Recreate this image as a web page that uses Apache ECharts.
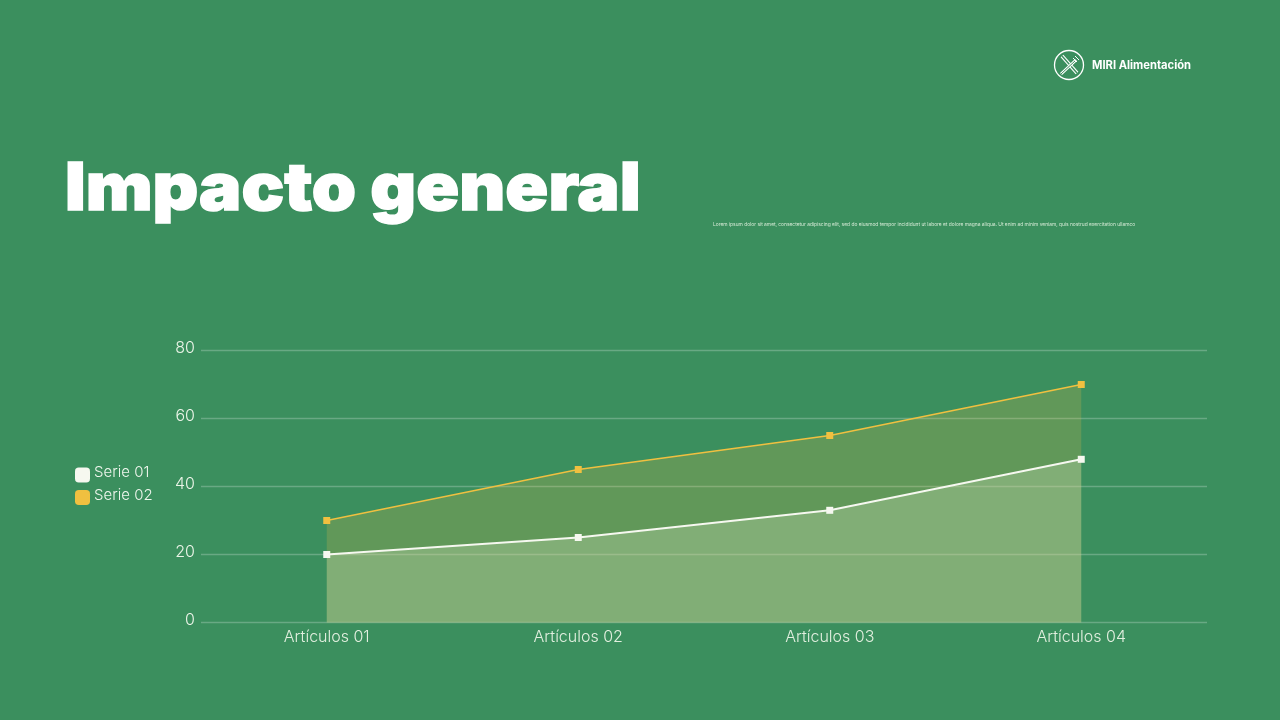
<!DOCTYPE html>
<html><head><meta charset="utf-8">
<style>html,body{margin:0;padding:0;background:#3b8f5e}#c{width:1280px;height:720px}</style>
<script src="https://cdn.jsdelivr.net/npm/echarts@6/dist/echarts.min.js"></script>
</head><body><div id="c"></div>
<script>
const categories = ['Artículos 01','Artículos 02','Artículos 03','Artículos 04'];
const serie01 = [20,25,33,48];
const serie02 = [30,45,55,70];
const yTicks = {min:0,max:80,interval:20};
const titleText = 'Impacto general';
const brandText = 'MIRI Alimentación';
const bodyText = 'Lorem ipsum dolor sit amet, consectetur adipiscing elit, sed do eiusmod tempor incididunt ut labore et dolore magna aliqua. Ut enim ad minim veniam, quis nostrud exercitation ullamco';
const font = 'Inter';
const chart = echarts.init(document.getElementById('c'),null,{renderer:'canvas'});
const mk = (name,data,color,area,z,w)=>({name,type:'line',data,z,symbol:'rect',symbolSize:7,
  lineStyle:{color,width:w},itemStyle:{color},areaStyle:{color:area,opacity:1},showSymbol:true,silent:true});
chart.setOption({
  backgroundColor:'#3b8f5e',animation:false,
  grid:{left:201,right:73,top:350.5,bottom:97.5,containLabel:false},
  legend:{orient:'vertical',left:70,top:460,itemWidth:15,itemHeight:15,itemGap:5,icon:'roundRect',
    formatter:'{t|{name}}',
    textStyle:{rich:{t:{color:'#f0f7ee',fontFamily:font,fontSize:15,fontWeight:300,padding:[0,0,5,-1]}}},
    data:['Serie 01','Serie 02']},
  color:['#ffffff','#f3c244'],
  xAxis:{type:'category',data:categories,boundaryGap:true,axisLine:{show:false},axisTick:{show:false},
    axisLabel:{color:'#e2efdf',fontFamily:font,fontSize:16,fontWeight:300,margin:7}},
  yAxis:{type:'value',min:yTicks.min,max:yTicks.max,interval:yTicks.interval,axisLine:{show:false},axisTick:{show:false},
    axisLabel:{color:'#eaf4e7',fontFamily:font,fontSize:16,fontWeight:300,margin:6,verticalAlign:'bottom',lineHeight:5},
    splitLine:{show:true,lineStyle:{color:'rgba(255,255,255,0.24)',width:1.3}}},
  series:[
    mk('Serie 01',serie01,'#f6f8f0','rgba(205,225,185,0.30)',4,1.9),
    mk('Serie 02',serie02,'#f0c040','rgba(240,190,70,0.21)',3,1.5)
  ],
  graphic:[
    {type:'text',x:65,y:157,scaleX:1.075,style:{text:titleText,fill:'#ffffff',stroke:'#ffffff',lineWidth:1.4,font:'900 66px Inter'}},
    {type:'text',left:713,top:222,style:{text:bodyText,fill:'#d6ebd6',font:'400 4.88px Inter'}},
    {type:'text',left:1092,top:60,style:{text:brandText,fill:'#ffffff',font:'700 11.2px Inter'}},
    {type:'circle',shape:{cx:1069,cy:65,r:14.5},style:{fill:'none',stroke:'#ffffff',lineWidth:1.3}},
    {type:'line',shape:{x1:1062,y1:56,x2:1077,y2:73},style:{stroke:'#ffffff',lineWidth:3.6}},
    {type:'line',shape:{x1:1062,y1:56,x2:1077,y2:73},style:{stroke:'#3b8f5e',lineWidth:1.4}},
    {type:'line',shape:{x1:1076,y1:60,x2:1061,y2:74},style:{stroke:'#ffffff',lineWidth:3}},
    {type:'line',shape:{x1:1076,y1:60,x2:1061,y2:74},style:{stroke:'#3b8f5e',lineWidth:1}},
    {type:'line',shape:{x1:1075,y1:56,x2:1079,y2:60},style:{stroke:'#ffffff',lineWidth:1}},
    {type:'line',shape:{x1:1073,y1:58,x2:1077,y2:62},style:{stroke:'#ffffff',lineWidth:1}}
  ]
});
</script></body></html>
